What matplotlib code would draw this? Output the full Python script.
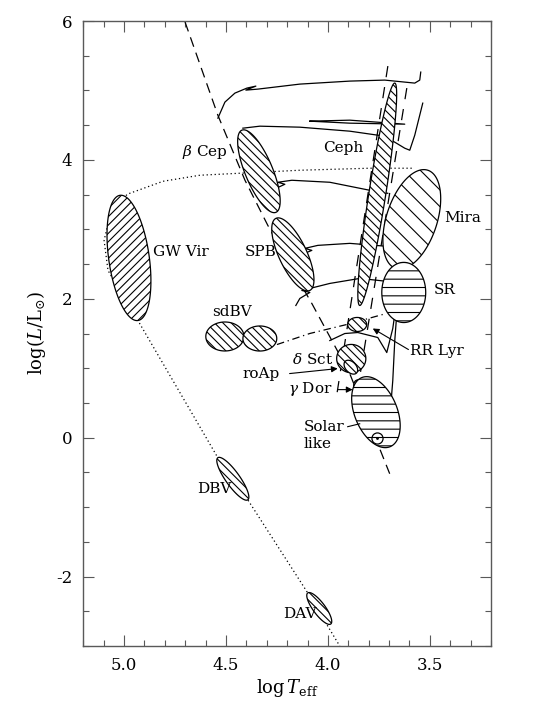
import numpy as np
import matplotlib
matplotlib.use('Agg')
import matplotlib.pyplot as plt
from matplotlib.patches import Polygon
from matplotlib.ticker import MultipleLocator, FormatStrFormatter

plt.rcParams['font.family'] = ['DejaVu Serif']
plt.rcParams['mathtext.fontset'] = 'dejavuserif'
plt.rcParams['hatch.linewidth'] = 0.8
plt.rcParams['axes.unicode_minus'] = False

# ---------------- data (log Teff, log L/Lsun) ----------------
reg_names = ['GW Vir', 'SPB', 'bCep', 'Ceph', 'Mira', 'SR', 'sdBV1', 'sdBV2',
             'RRLyr', 'dSct', 'roAp', 'gDor', 'Solar', 'DBV', 'DAV']
reg_T1 = [5.020, 4.255, 4.422, 3.672, 3.510, 3.628, 4.599, 4.417,
          3.903, 3.957, 3.915, 3.863, 3.834, 4.540, 4.099]
reg_L1 = [3.49, 3.158, 4.428, 5.106, 3.851, 2.524, 1.457, 1.428,
          1.630, 1.139, 1.10, 0.822, 0.865, -0.289, -2.236]
reg_T2 = [4.932, 4.089, 4.255, 3.844, 3.667, 3.628, 4.412, 4.251,
          3.810, 3.814, 3.860, 3.805, 3.695, 4.393, 3.986]
reg_L2 = [1.687, 2.12, 3.245, 1.904, 2.437, 1.658, 1.457, 1.428,
          1.630, 1.139, 0.93, 0.580, -0.130, -0.895, -2.683]
reg_ratio = [0.32, 0.35, 0.31, 0.075, 0.49, 0.73, 0.76, 0.74,
             0.74, 0.97, 0.65, 0.65, 0.57, 0.27, 0.31]

zams_T = [4.701, 4.540, 4.407, 4.295, 4.187, 4.079, 3.893, 3.697]
zams_L = [5.986, 4.644, 3.707, 3.058, 2.481, 1.933, 0.923, -0.519]

wd_T = [3.589, 3.795, 4.138, 4.628, 4.809, 4.985, 5.069, 5.098, 5.079, 4.995,
        4.932, 4.540, 4.393, 4.099, 3.942]
wd_L = [3.880, 3.880, 3.851, 3.779, 3.692, 3.505, 3.202, 2.841, 2.41, 1.976,
        1.687, -0.289, -0.895, -2.236, -3.0]

hb_T = [4.250, 4.089, 3.907, 3.731]
hb_L = [1.341, 1.50, 1.630, 1.774]

strip_blue_T = [3.706, 3.961]
strip_blue_L = [5.351, 0.533]
strip_red_T = [3.613, 3.863]
strip_red_L = [5.034, 0.533]

# evolutionary tracks (log Teff, log L)
def px2d(px, py):
    return 5.2 - (px - 83.3) / 204.0, 6 - (py - 21) / 69.33

tracks_px = [
    [(218, 118), (225, 102), (235, 93), (247, 88), (256, 86), (246, 90), (258, 89),
     (300, 84), (350, 81), (385, 80), (415, 83), (420, 80), (421, 72)],
    [(243, 128), (260, 126), (300, 127), (350, 131), (385, 136), (405, 148),
     (410, 150), (415, 135), (423, 103)],
    [(310, 121), (350, 120), (405, 124), (350, 123), (310, 121)],
    [(272, 190), (285, 184), (278, 182), (292, 180), (330, 182), (370, 190), (388, 193)],
    [(300, 255), (312, 250), (305, 248), (318, 245), (350, 243), (388, 246)],
    [(296, 305), (300, 298), (310, 292), (302, 290), (330, 283), (360, 278), (388, 281)],
    [(330, 340), (345, 333), (358, 332), (378, 337), (387, 352), (393, 328), (397, 300),
     (402, 268)],
    [(377, 437), (377, 423), (380, 415), (388, 413), (391, 405), (393, 380), (395, 340),
     (398, 300), (402, 268), (405, 250)],
    [(405, 320), (408, 290), (411, 262)],
]
tracks = [[px2d(*p) for p in tr] for tr in tracks_px]

lab_text = ['GW Vir', 'SPB', r'$\beta$ Cep', 'Ceph', 'Mira', 'SR', 'sdBV', 'RR Lyr',
            r'$\delta$ Sct', 'roAp', r'$\gamma$ Dor', 'Solar', 'like', 'DBV', 'DAV']
lab_T = [4.858, 4.251, 4.49, 3.927, 3.427, 3.481, 4.471, 3.599,
         3.976, 4.236, 3.976, 4.118, 4.118, 4.642, 4.221]
lab_L = [2.668, 2.668, 4.11, 4.17, 3.158, 2.12, 1.803, 1.255,
         1.125, 0.923, 0.706, 0.158, -0.087, -0.736, -2.539]
lab_ha = ['left', 'right', 'right', 'center', 'left', 'left', 'center', 'left',
          'right', 'right', 'right', 'left', 'left', 'left', 'left']

# ---------------- figure ----------------
fig = plt.figure(figsize=(5.43, 7.11), dpi=100)
ax = fig.add_axes([83.3 / 543, (711 - 646) / 711, (491 - 83.3) / 543, (646 - 21) / 711])
ax.set_xlim(5.2, 3.2)
ax.set_ylim(-3, 6)

H4 = '\\\\\\\\'
hatches = {'GW Vir': '////', 'SPB': H4, 'bCep': H4, 'Ceph': H4,
           'Mira': '\\\\', 'SR': '--', 'sdBV1': H4, 'sdBV2': H4,
           'RRLyr': H4, 'dSct': H4, 'roAp': H4, 'gDor': H4,
           'Solar': '--', 'DBV': H4, 'DAV': H4}

def ellipse_poly(T1, L1, T2, L2, ratio, n=240):
    p1 = ax.transData.transform((T1, L1))
    p2 = ax.transData.transform((T2, L2))
    c = (p1 + p2) / 2
    d = (p2 - p1) / 2
    a = np.hypot(*d)
    u = d / a
    v = np.array([-u[1], u[0]])
    t = np.linspace(0, 2 * np.pi, n)
    pts = c + np.outer(np.cos(t), d) + np.outer(np.sin(t) * a * ratio, v)
    return ax.transData.inverted().transform(pts)

lw = 0.9
ax.plot(zams_T, zams_L, color='k', lw=lw, ls=(0, (8, 5)), zorder=2)
ax.plot(wd_T, wd_L, color='k', lw=lw, ls=(0, (1, 2.2)), zorder=2)
ax.plot(hb_T, hb_L, color='k', lw=lw, ls=(0, (6, 3, 1, 3)), zorder=2)
ax.plot(strip_blue_T, strip_blue_L, color='k', lw=lw, ls=(0, (9, 8)), zorder=2)
ax.plot(strip_red_T, strip_red_L, color='k', lw=lw, ls=(0, (9, 8)), zorder=2)
for tr in tracks:
    xs, ys = zip(*tr)
    ax.plot(xs, ys, color='k', lw=lw, zorder=2)

for i, nm in enumerate(reg_names):
    pts = ellipse_poly(reg_T1[i], reg_L1[i], reg_T2[i], reg_L2[i], reg_ratio[i])
    z = 4 if nm == 'roAp' else 3
    ax.add_patch(Polygon(pts, closed=True, facecolor='white', edgecolor='k',
                         hatch=hatches[nm], lw=lw, zorder=z))

# Sun symbol
ax.plot([3.760], [0.0], marker='o', ms=8, mfc='none', mec='k', mew=0.9, zorder=5)
ax.plot([3.760], [0.0], marker='.', ms=2, color='k', zorder=5)

for txt, x, y, ha in zip(lab_text, lab_T, lab_L, lab_ha):
    ax.text(x, y, txt, ha=ha, va='center', fontsize=11, zorder=6)

arrow = dict(arrowstyle='-|>', color='k', lw=0.8, mutation_scale=9, shrinkA=0, shrinkB=0)
ax.annotate('', xy=(3.78, 1.572), xytext=(3.605, 1.269), arrowprops=arrow, zorder=6)
ax.annotate('', xy=(3.952, 0.995), xytext=(4.188, 0.923), arrowprops=arrow, zorder=6)
ax.annotate('', xy=(3.879, 0.692), xytext=(3.952, 0.692), arrowprops=arrow, zorder=6)
ax.plot([3.903, 3.844], [0.158, 0.20], color='k', lw=0.8, zorder=6)

ax.xaxis.set_major_locator(MultipleLocator(0.5))
ax.xaxis.set_minor_locator(MultipleLocator(0.1))
ax.yaxis.set_major_locator(MultipleLocator(2))
ax.yaxis.set_minor_locator(MultipleLocator(0.5))
ax.xaxis.set_major_formatter(FormatStrFormatter('%.1f'))
ax.tick_params(which='both', direction='in', top=True, right=True, labelsize=12,
               width=0.8, color='0.35')
ax.tick_params(which='major', length=8, pad=8)
ax.tick_params(which='minor', length=4)
for s in ax.spines.values():
    s.set_linewidth(1.0)
    s.set_color('0.35')
ax.set_xlabel(r'$\log T_{\rm eff}$', fontsize=13, labelpad=2)
ax.set_ylabel(r'$\log(L/{\rm L}_{\odot})$', fontsize=13, labelpad=6)

fig.savefig('out.png', dpi=100)
